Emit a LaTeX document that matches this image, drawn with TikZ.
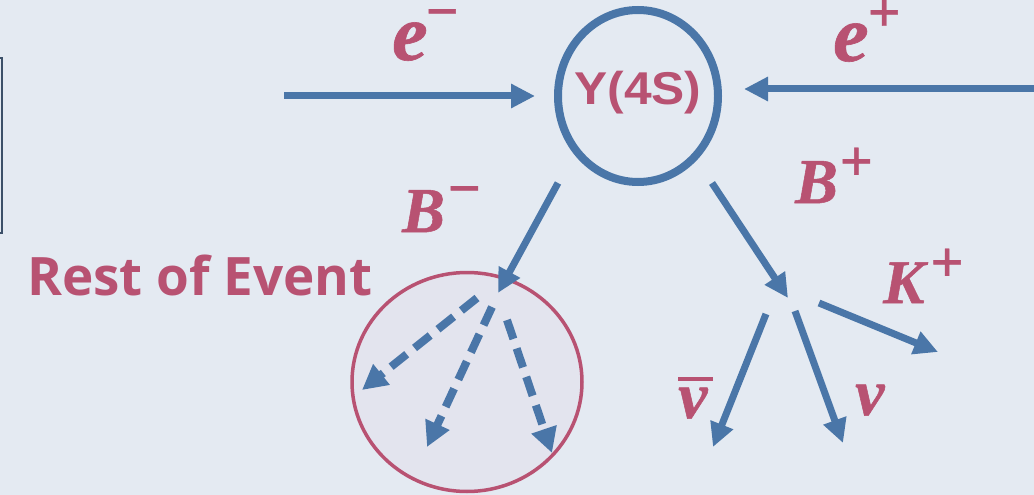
\documentclass[tikz,border=0pt]{standalone}
\usepackage{fontspec}
\usetikzlibrary{arrows.meta,shapes.geometric}
\newfontfamily\upsfont{Liberation Sans}
\newfontfamily\roefont{Open Sans}
\newfontfamily\labfont{Liberation Serif}[BoldItalicFeatures={FakeBold=0.8},BoldFeatures={FakeBold=0.8}]
\definecolor{bgcol}{RGB}{228,234,242}
\definecolor{arrowblue}{RGB}{74,118,168}
\definecolor{labpink}{RGB}{184,82,114}
\definecolor{roefill}{RGB}{227,228,238}
\definecolor{framecol}{RGB}{60,80,105}
\tikzset{
  arr/.style={draw=arrowblue, line width=7pt, -{Triangle[length=24pt,width=23pt]}},
  darr/.style={draw=arrowblue, line width=8pt, dash pattern=on 20pt off 10pt, -{Triangle[length=25pt,width=25pt]}},
  lab/.style={text=labpink, inner sep=0pt, anchor=base west},
}
% letter, letter size, kern, sign, raise
\newcommand\plab[5]{{\labfont\bfseries\itshape\fontsize{#2}{#2}\selectfont #1}\kern#3pt\raisebox{#5pt}{\labfont\bfseries\fontsize{58}{58}\selectfont #4}}
\begin{document}
\begin{tikzpicture}[x=1pt,y=-1pt]
\useasboundingbox (0,0) rectangle (1034,495);
\fill[bgcol] (0,0) rectangle (1034,495);
% left frame
\draw[framecol, line width=2pt] (-5,58) -- (2,58) -- (2,233) -- (-5,233);
% coordinates
\coordinate (emstart) at (284,96);
\coordinate (emend) at (535,96);
\coordinate (epstart) at (1040,89);
\coordinate (epend) at (744,89);
\coordinate (bmstart) at (558,183);
\coordinate (bmend) at (498,293);
\coordinate (bpstart) at (712,183);
\coordinate (bpend) at (788,298);
\coordinate (kstart) at (819,303);
\coordinate (kend) at (938,352);
\coordinate (nbstart) at (766,314);
\coordinate (nbend) at (713,447);
\coordinate (nstart) at (795,311);
\coordinate (nend) at (843,443);
\coordinate (r1s) at (477,298);
\coordinate (r1e) at (362,390);
\coordinate (r2s) at (492,307);
\coordinate (r2e) at (427,447);
\coordinate (r3s) at (507,320);
\coordinate (r3e) at (552,453);
% rest of event
\node[ellipse, draw=labpink, fill=roefill, line width=3.5pt, minimum width=230pt, minimum height=219pt, inner sep=0pt] (roe) at (467,382) {};
\node[lab, font=\roefont\bfseries\fontsize{53}{53}\selectfont] (roetext) at (27,295) {Rest of Event};
% Upsilon
\node[ellipse, draw=arrowblue, line width=8pt, minimum width=160pt, minimum height=172pt, inner sep=0pt] (ups) at (638,96) {};
\node[text=labpink, inner sep=0pt, anchor=base, font=\upsfont\bfseries\fontsize{46}{46}\selectfont] (upstext) at (638,105) {\scalebox{1.08}[1]{Υ(4S)}};
% arrows
\draw[arr] (emstart) -- (emend);
\draw[arr] (epstart) -- (epend);
\draw[arr] (bmstart) -- (bmend);
\draw[arr] (bpstart) -- (bpend);
\draw[arr] (kstart) -- (kend);
\draw[arr] (nbstart) -- (nbend);
\draw[arr] (nstart) -- (nend);
\draw[darr] (r1s) -- (r1e);
\draw[darr] (r2s) -- (r2e);
\draw[darr] (r3s) -- (r3e);
% labels
\node[lab] (em) at (392,60) {\plab{e}{80}{-2}{−}{29.5}};
\node[lab] (ep) at (833,61) {\plab{e}{80}{-1}{+}{29.5}};
\node[lab] (bm) at (402,232) {\plab{B}{64}{3}{−}{24.5}};
\node[lab] (bp) at (795,203) {\plab{B}{64}{2}{+}{22.5}};
\node[lab] (kp) at (883,303) {\plab{K}{62}{6}{+}{21.5}};
\node[lab] (nub) at (678,418) {\labfont\bfseries\itshape\fontsize{66}{66}\selectfont\rlap{\rule[37pt]{35pt}{4pt}}ν};
\node[lab] (nu) at (855,415) {\labfont\bfseries\itshape\fontsize{66}{66}\selectfont ν};
\end{tikzpicture}
\end{document}
